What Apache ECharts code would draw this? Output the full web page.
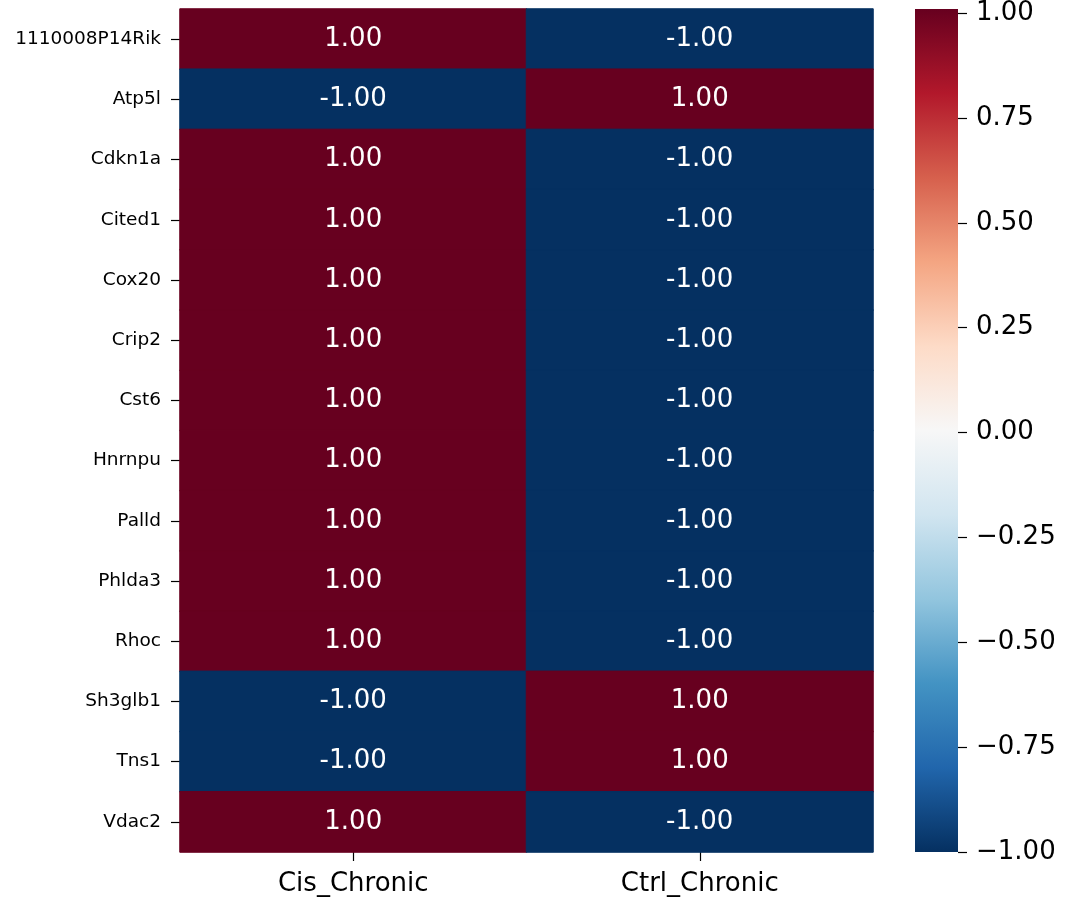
<!DOCTYPE html>
<html>
<head>
<meta charset="utf-8">
<script src="https://cdn.jsdelivr.net/npm/echarts@6/dist/echarts.min.js"></script>
<style>
html,body{margin:0;padding:0;background:#fff;}
#chart{width:1066px;height:898px;}
</style>
</head>
<body>
<div id="chart"></div>
<script>
const genes = ['1110008P14Rik','Atp5l','Cdkn1a','Cited1','Cox20','Crip2','Cst6','Hnrnpu','Palld','Phlda3','Rhoc','Sh3glb1','Tns1','Vdac2'];
const conditions = ['Cis_Chronic','Ctrl_Chronic'];
const cisChronic = [1,-1,1,1,1,1,1,1,1,1,1,-1,-1,1];
const ctrlChronic = [-1,1,-1,-1,-1,-1,-1,-1,-1,-1,-1,1,1,-1];
const colorbarTicks = [-1,-0.75,-0.5,-0.25,0,0.25,0.5,0.75,1];
const rdbu = ['#053061','#2166ac','#4393c3','#92c5de','#d1e5f0','#f7f7f7','#fddbc7','#f4a582','#d6604d','#b2182b','#67001f'];

const VMIN = -1, VMAX = 1;
function hexToRgb(h){ return [parseInt(h.substr(1,2),16),parseInt(h.substr(3,2),16),parseInt(h.substr(5,2),16)]; }
function colorFor(v){
  let t = (v - VMIN) / (VMAX - VMIN);
  t = Math.max(0, Math.min(1, t));
  const pos = t * (rdbu.length - 1);
  const i = Math.min(Math.floor(pos), rdbu.length - 2);
  const f = pos - i;
  const a = hexToRgb(rdbu[i]), b = hexToRgb(rdbu[i+1]);
  const c = a.map((x, k) => Math.round(x + (b[k] - x) * f));
  return 'rgb(' + c.join(',') + ')';
}

const seriesValues = [cisChronic, ctrlChronic];
const data = [];
seriesValues.forEach((arr, xi) => arr.forEach((v, yi) => {
  const col = colorFor(v);
  data.push({value:[xi, yi, v], itemStyle:{color:col, borderColor:col, borderWidth:1}});
}));

const FONT = 'DejaVu Sans';
const CB = {left:915, top:9, width:43, height:843};
const chart = echarts.init(document.getElementById('chart'), null, {renderer:'canvas'});
chart.setOption({
  animation:false,
  backgroundColor:'#fff',
  textStyle:{fontFamily:FONT},
  grid:[
    {left:180, top:9, width:693, height:843},
    {left:CB.left, top:CB.top, width:CB.width, height:CB.height}
  ],
  graphic:[{
    type:'rect', left:CB.left, top:CB.top, z:-1, silent:true,
    shape:{width:CB.width, height:CB.height},
    style:{fill:new echarts.graphic.LinearGradient(0,0,0,1,
      rdbu.slice().reverse().map((c,i,a)=>({offset:i/(a.length-1), color:c})))}
  }],
  xAxis:[
    {type:'category', gridIndex:0, data:conditions,
     axisLine:{show:false}, splitLine:{show:false},
     axisTick:{show:true, alignWithLabel:true, length:9, lineStyle:{color:'#000', width:1.2}},
     axisLabel:{fontFamily:FONT, fontSize:26, color:'#000', margin:19}},
    {type:'category', gridIndex:1, data:['cb'], show:false}
  ],
  yAxis:[
    {type:'category', gridIndex:0, data:genes, inverse:true,
     axisLine:{show:false}, splitLine:{show:false},
     axisTick:{show:true, alignWithLabel:true, length:9, lineStyle:{color:'#000', width:1.2}},
     axisLabel:{fontFamily:FONT, fontSize:18.5, color:'#000', margin:19}},
    {type:'value', gridIndex:1, position:'right', min:-1, max:1, interval:0.25,
     axisLine:{show:true, onZero:false, lineStyle:{color:'rgba(0,0,0,0)'}}, splitLine:{show:false},
     axisTick:{show:true, inside:false, length:9, lineStyle:{color:'#000', width:1.2}},
     axisLabel:{fontFamily:FONT, fontSize:26, color:'#000', margin:18,
       formatter:function(v){ const s=(+v).toFixed(2); return s.replace('-', '\u2212'); }}}
  ],
  series:[{
    type:'heatmap', xAxisIndex:0, yAxisIndex:0, data:data,
    label:{show:true, color:'#fff', fontFamily:FONT, fontSize:26,
      formatter:function(p){ return p.value[2].toFixed(2); }},
    emphasis:{disabled:true}
  }]
});
</script>
</body>
</html>
